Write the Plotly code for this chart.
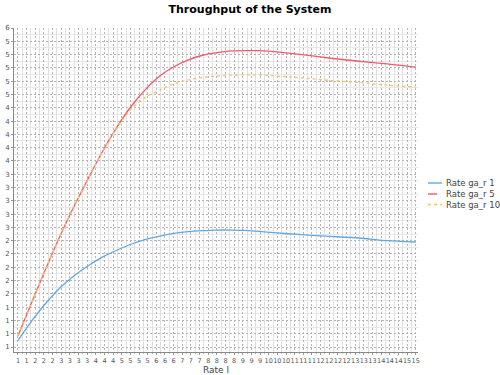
import numpy as np
import plotly.graph_objects as go

# ---- data ----
x_vals = [1, 1.5, 2, 2.5, 3, 3.5, 4, 4.5, 5, 5.5, 6, 6.5, 7, 7.5, 8, 8.5, 9, 9.5, 10, 11, 12, 13, 14, 15]
rate_1 = [1.30, 1.60, 1.87, 2.10, 2.28, 2.43, 2.56, 2.66, 2.75, 2.82, 2.87, 2.91, 2.935, 2.95, 2.96, 2.96,
          2.955, 2.94, 2.92, 2.89, 2.865, 2.84, 2.80, 2.78]
rate_5 = [1.37, 1.89, 2.40, 2.89, 3.34, 3.76, 4.16, 4.52, 4.83, 5.08, 5.28, 5.42, 5.52, 5.59, 5.63, 5.655,
          5.66, 5.66, 5.645, 5.60, 5.545, 5.50, 5.46, 5.41]
rate_10 = [1.37, 1.89, 2.40, 2.89, 3.34, 3.76, 4.16, 4.51, 4.79, 4.96, 5.07, 5.16, 5.22, 5.255, 5.275, 5.29,
           5.295, 5.295, 5.28, 5.25, 5.21, 5.18, 5.14, 5.11]
series_names = ["Rate ga_r 1", "Rate ga_r 5", "Rate ga_r 10"]

x_tick_labels = [1, 1, 2, 2, 2, 3, 3, 3, 3, 4, 4, 4, 5, 5, 5, 5, 6, 6, 6, 7, 7, 7, 8, 8, 8, 8, 9, 9, 9,
                 10, 10, 10, 11, 11, 11, 12, 12, 12, 12, 13, 13, 13, 14, 14, 14, 15, 15]
y_tick_labels = [1, 1, 1, 1, 2, 2, 2, 2, 2, 3, 3, 3, 3, 3, 4, 4, 4, 4, 4, 5, 5, 5, 5, 5, 6]

# ---- styles ----
colors = ["#62a8de", "#f2596c", "#f5c264"]
dashes = ["solid", "solid", "dot"]
legend_dashes = ["solid", "dash", "dot"]
FONT = "DejaVu Sans"

# plot-area geometry (pixels) used for the hand-placed legend
L, R, T, B = 14, 82, 28, 23
W, H = 500, 375
PW, PH = W - L - R, H - T - B

x_tickvals = np.linspace(1, 15, len(x_tick_labels))
y_tickvals = np.round(np.linspace(1.2, 6.0, len(y_tick_labels)), 2)
x_minor = (x_tickvals[:-1] + x_tickvals[1:]) / 2
y_minor = (y_tickvals[:-1] + y_tickvals[1:]) / 2

fig = go.Figure()
for name, ys, c, d in zip(series_names, [rate_1, rate_5, rate_10], colors, dashes):
    fig.add_trace(go.Scatter(x=x_vals, y=ys, mode="lines", name=name, showlegend=False,
                             line=dict(color=c, width=1.3, dash=d, shape="spline", smoothing=0.6)))

axis_common = dict(
    showline=True, linecolor="#888888", linewidth=1, mirror=False,
    zeroline=False, ticks="outside", ticklen=2, tickcolor="#999999",
    showgrid=True, gridcolor="#b4b4b4", gridwidth=1, griddash="2px,2px",
)

fig.update_xaxes(
    range=[0.86, 15.08], tickmode="array", tickvals=x_tickvals,
    ticktext=[str(v) for v in x_tick_labels], tickangle=0,
    tickfont=dict(family=FONT, size=6.5, color="#555555"),
    title=dict(text="Rate l", font=dict(family=FONT, size=9, color="#444444"), standoff=2),
    minor=dict(tickmode="array", tickvals=x_minor, showgrid=True, gridcolor="#e0e0e0",
               griddash="solid", ticks="outside", ticklen=1, tickcolor="#bbbbbb"),
    automargin=False, **axis_common)
fig.update_yaxes(
    range=[1.125, 6.0], tickmode="array", tickvals=y_tickvals,
    ticktext=[str(v) for v in y_tick_labels],
    tickfont=dict(family=FONT, size=7, color="#555555"),
    minor=dict(tickmode="array", tickvals=y_minor, showgrid=True, gridcolor="#e8e8e8",
               griddash="solid"),
    automargin=False, **axis_common)

# hand-placed legend (outside the plot area, right side)
legend_rows_py = [183, 194, 204.5]
for name, c, d, py in zip(series_names, colors, legend_dashes, legend_rows_py):
    yp = (H - B - py) / PH
    x0 = (428 - L) / PW
    x1 = (442 - L) / PW
    fig.add_shape(type="line", xref="paper", yref="paper", x0=x0, x1=x1, y0=yp, y1=yp,
                  line=dict(color=c, width=1.4, dash=d))
    fig.add_annotation(xref="paper", yref="paper", x=(444 - L) / PW, y=yp, text=name,
                       showarrow=False, xanchor="left", yanchor="middle",
                       font=dict(family=FONT, size=8.5, color="#444444"))

fig.update_layout(
    width=W, height=H,
    margin=dict(l=L, r=R, t=T, b=B),
    paper_bgcolor="white", plot_bgcolor="white",
    title=dict(text="<b>Throughput of the System</b>", x=0.5, xanchor="center",
               y=0.975, yanchor="middle",
               font=dict(family=FONT, size=11, color="#000000")),
    showlegend=False,
)

fig.write_html("out.html", config={"displayModeBar": False},
               post_script="document.body.style.margin='0';")
